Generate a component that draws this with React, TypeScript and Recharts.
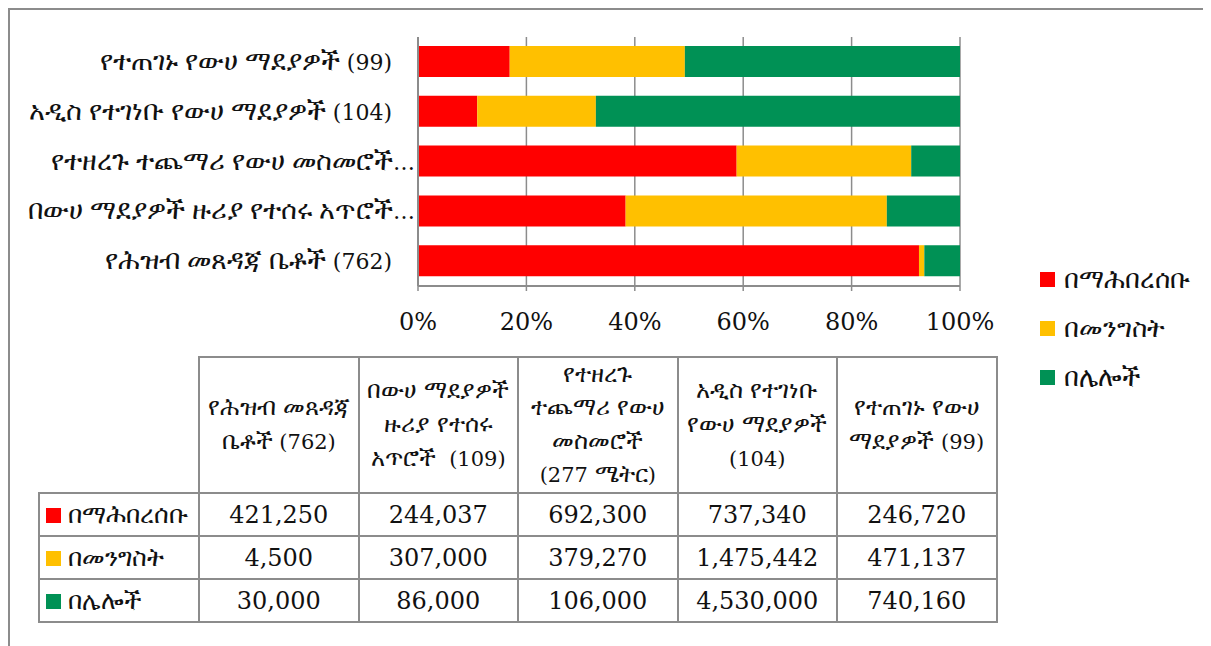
import React from 'react';
import { BarChart, Bar, XAxis, YAxis, CartesianGrid, Legend } from 'recharts';

// table order (left to right)
const categories = [
  'የሕዝብ መጸዳጃ ቤቶች (762)',
  'በውሀ ማደያዎች ዙሪያ የተሰሩ አጥሮች (109)',
  'የተዘረጉ ተጨማሪ የውሀ መስመሮች (277 ሜትር)',
  'አዲስ የተገነቡ የውሀ ማደያዎች (104)',
  'የተጠገኑ የውሀ ማደያዎች (99)',
];
const axisLabels = [
  'የሕዝብ መጸዳጃ ቤቶች (762)',
  'በውሀ ማደያዎች ዙሪያ የተሰሩ አጥሮች…',
  'የተዘረጉ ተጨማሪ የውሀ መስመሮች…',
  'አዲስ የተገነቡ የውሀ ማደያዎች (104)',
  'የተጠገኑ የውሀ ማደያዎች (99)',
];
const headerLines = [
  ['የሕዝብ መጸዳጃ', 'ቤቶች (762)'],
  ['በውሀ ማደያዎች', 'ዙሪያ የተሰሩ', 'አጥሮች  (109)'],
  ['የተዘረጉ', 'ተጨማሪ የውሀ', 'መስመሮች', '(277 ሜትር)'],
  ['አዲስ የተገነቡ', 'የውሀ ማደያዎች', '(104)'],
  ['የተጠገኑ የውሀ', 'ማደያዎች (99)'],
];

const seriesNames = ['በማሕበረሰቡ', 'በመንግስት', 'በሌሎች'];
const community = [421250, 244037, 692300, 737340, 246720];
const government = [4500, 307000, 379270, 1475442, 471137];
const others = [30000, 86000, 106000, 4530000, 740160];
const colors = ['#FF0000', '#FFC000', '#009155'];
const ticks = [0, 0.2, 0.4, 0.6, 0.8, 1];

const series = [community, government, others];

const data = categories
  .map((name, i) => ({ name, label: axisLabels[i], s0: community[i], s1: government[i], s2: others[i] }))
  .reverse();

const FONT = "'DejaVu Serif', 'Noto Sans', serif";
const GRAY = '#8c8c8c';

// the fallback Ethiopic glyphs come out small, so those runs get a bigger size
const ETH = /([\u1200-\u139F\u2D80-\u2DDF]+)/;
const runs = (s: string) =>
  s.split(ETH).filter(Boolean).map(t => ({ t, eth: /[\u1200-\u139F\u2D80-\u2DDF]/.test(t) }));

const Mixed = ({ text, size, ethSize }: { text: string; size: number; ethSize: number }) => (
  <>
    {runs(text).map((r, i) => (
      <span key={i} style={{ fontSize: r.eth ? ethSize : size }}>{r.t}</span>
    ))}
  </>
);

// truncated labels run on past the usual right edge, up to the axis
const YTick = ({ x, y, payload }: any) => (
  <text x={x} y={y} dx={payload.value.endsWith('…') ? 23 : 0} dy={8} textAnchor="end" fill="#111" fontFamily={FONT}>
    {runs(payload.value).map((r, i) => (
      <tspan key={i} fontSize={r.eth ? 27 : 22}>{r.t}</tspan>
    ))}
  </text>
);

const renderLegend = () => (
  <div>
    {seriesNames.map((n, i) => (
      <div key={n} style={{ display: 'flex', alignItems: 'center', height: 49, fontFamily: FONT, color: '#111' }}>
        <span style={{ width: 15, height: 15, background: colors[i], marginRight: 9, display: 'inline-block' }} />
        <Mixed text={n} size={22} ethSize={26} />
      </div>
    ))}
  </div>
);

const cell: React.CSSProperties = {
  border: `2px solid ${GRAY}`,
  textAlign: 'center',
  padding: 0,
};

export default function App() {
  return (
    <div style={{ position: 'relative', width: 1201, height: 638, borderLeft: `2px solid ${GRAY}`, borderTop: `2px solid ${GRAY}`, borderRight: '2px solid #d0d0d0', fontFamily: FONT, color: '#111' }}>
      <div style={{ position: 'absolute', left: -2, top: -2 }}>
        <BarChart
          width={1203}
          height={640}
          data={data}
          layout="vertical"
          stackOffset="expand"
          barSize={31}
          margin={{ top: 29, right: 251, bottom: 322, left: 10 }}
        >
          <CartesianGrid horizontal={false} stroke={GRAY} strokeWidth={1.5} />
          <XAxis
            type="number"
            domain={[0, 1]}
            ticks={ticks}
            tickFormatter={(v: number) => `${Math.round(v * 100)}%`}
            axisLine={{ stroke: GRAY, strokeWidth: 2 }}
            tickLine={{ stroke: GRAY, strokeWidth: 1.5 }}
            tickSize={5}
            tickMargin={22}
            height={40}
            tick={{ fontSize: 24, fill: '#111', fontFamily: FONT }}
            interval={0}
          />
          <YAxis
            type="category"
            dataKey="label"
            width={400}
            axisLine={{ stroke: GRAY, strokeWidth: 2 }}
            tickLine={false}
            tickSize={0}
            tickMargin={26}
            tick={<YTick />}
            interval={0}
          />
          {series.map((_, i) => (
            <Bar key={i} dataKey={`s${i}`} name={seriesNames[i]} stackId="a" fill={colors[i]} isAnimationActive={false} />
          ))}
          <Legend
            content={renderLegend}
            layout="vertical"
            wrapperStyle={{ position: 'absolute', left: 1032, top: 247, width: 170, height: 0, overflow: 'visible' }}
          />
        </BarChart>
      </div>
      <table
        style={{
          position: 'absolute',
          left: 28,
          top: 346,
          borderCollapse: 'collapse',
          tableLayout: 'fixed',
          fontFamily: FONT,
          fontSize: 22,
          color: '#111',
        }}
      >
        <tbody>
          <tr style={{ height: 135 }}>
            <td style={{ width: 159, padding: 0 }} />
            {headerLines.map((lines, i) => (
              <td key={i} style={{ ...cell, width: 157.5, lineHeight: '33px' }}>
                {lines.map((l, j) => (
                  <div key={j} style={{ whiteSpace: 'pre' }}>
                    <Mixed text={l} size={21} ethSize={24} />
                  </div>
                ))}
              </td>
            ))}
          </tr>
          {series.map((vals, r) => (
            <tr key={r} style={{ height: 43 }}>
              <td style={{ ...cell, textAlign: 'left', paddingLeft: 6, whiteSpace: 'nowrap' }}>
                <span style={{ display: 'inline-block', width: 15, height: 15, background: colors[r], marginRight: 7 }} />
                <Mixed text={seriesNames[r]} size={22} ethSize={25} />
              </td>
              {vals.map((v, c) => (
                <td key={c} style={{ ...cell, fontSize: 24 }}>{v.toLocaleString('en-US')}</td>
              ))}
            </tr>
          ))}
        </tbody>
      </table>
    </div>
  );
}
